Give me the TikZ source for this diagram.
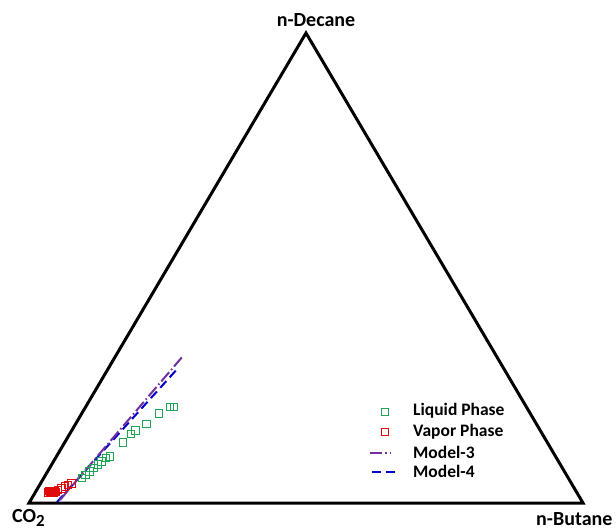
\documentclass[tikz,border=0pt]{standalone}
\usepackage{fontspec}
\setmainfont{Carlito}
\definecolor{liqgreen}{RGB}{30,165,85}
\definecolor{vapred}{RGB}{225,10,10}
\definecolor{modpurple}{RGB}{112,48,160}
\definecolor{modblue}{RGB}{0,0,200}
\tikzset{
  corner/.style={font=\fontsize{20}{20}\selectfont\bfseries, inner sep=0pt},
  legtext/.style={font=\fontsize{17.5}{18}\selectfont\bfseries, inner sep=0pt, anchor=west},
  liqmark/.style={draw=liqgreen, line width=1.4pt, minimum size=7.5pt, inner sep=0pt, rectangle},
  vapmark/.style={draw=vapred, line width=1.4pt, minimum size=7.5pt, inner sep=0pt, rectangle},
  modthree/.style={draw=modpurple, line width=2pt, dash pattern=on 12pt off 3pt on 1.5pt off 3pt},
  modfour/.style={draw=modblue, line width=2pt, dash pattern=on 9pt off 5pt},
}
\begin{document}
\begin{tikzpicture}[x=1pt,y=-1pt]
\useasboundingbox (0,0) rectangle (616,530);
\fill[white] (0,0) rectangle (616,530);
% triangle
\coordinate (A) at (29,503);
\coordinate (B) at (583,503);
\coordinate (C) at (306,33);
\draw[line width=3pt, line join=miter] (A) -- (B) -- (C) -- cycle;
% corner labels
\node[corner, anchor=base] (dec) at (316,27) {n-Decane};
\node[corner, anchor=base west] (but) at (536,525) {n-Butane};
\node[corner, anchor=base west] (co) at (12,522) {CO\raisebox{-4pt}{\fontsize{17}{17}\selectfont 2}};
% models
\coordinate (m3a) at (60,500);
\coordinate (m3b) at (183,356);
\coordinate (m4a) at (57,502);
\coordinate (m4b) at (179,367);
\draw[modfour] (m4a) -- (m4b);
\draw[modthree] (m3a) -- (m3b);
% liquid phase
\foreach \x/\y [count=\i] in {170/407,174/407,159/413.5,146.5/424,135.5/430.5,131/434,123/442.5,110/456.5,106/458,101.5/461.5,98/464.5,93.5/468,89.5/471.5,85.5/475,82/478}
  \node[liqmark] (liq\i) at (\x,\y) {};
% vapor phase
\foreach \x/\y [count=\i] in {71.5/483.5,68/485,65/486.5,61.5/488.5,58/490,55/491,52/492,50/492.5,53/493,56/492,48/492.5,51/491,54/492.5,49/491}
  \node[vapmark] (vap\i) at (\x,\y) {};
\fill[vapred] (47,489) rectangle (58,495.5);
% legend
\node[liqmark] (lgm1) at (385,412) {};
\node[legtext] (lgt1) at (413,411) {Liquid Phase};
\node[vapmark] (lgm2) at (385,432) {};
\node[legtext] (lgt2) at (413,432) {Vapor Phase};
\coordinate (l3a) at (370,453);
\coordinate (l3b) at (391,453);
\draw[modthree] (l3a) -- (l3b);
\node[legtext] (lgt3) at (413,452) {Model-3};
\coordinate (l4a) at (372,472);
\coordinate (l4b) at (395,472);
\draw[modfour] (l4a) -- (l4b);
\node[legtext] (lgt4) at (413,471) {Model-4};
\end{tikzpicture}
\end{document}
